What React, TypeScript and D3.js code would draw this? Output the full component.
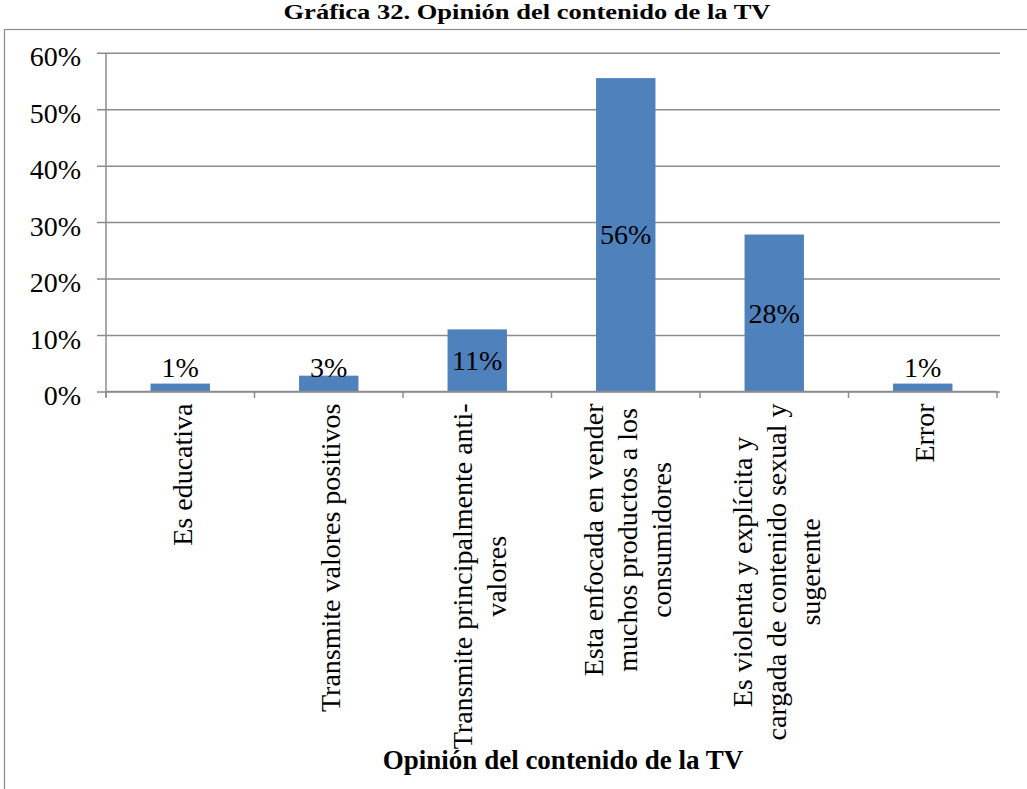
import React, { useEffect, useRef } from 'react';
import * as d3 from 'd3';

// chart data
const categories: string[] = [
  "Es educativa",
  "Transmite valores positivos",
  "Transmite principalmente anti-\nvalores",
  "Esta enfocada en vender\nmuchos productos a los\nconsumidores",
  "Es violenta y explícita y\ncargada de contenido sexual y\nsugerente",
  "Error",
];
const values: number[] = [0.014, 0.028, 0.11, 0.555, 0.278, 0.014];
const valueLabels: string[] = ["1%", "3%", "11%", "56%", "28%", "1%"];
const yTicks: number[] = [0, 0.1, 0.2, 0.3, 0.4, 0.5, 0.6];

const chartTitle = "Gráfica 32. Opinión del contenido de la TV";
const axisTitle = "Opinión del contenido de la TV";

const W = 1027;
const H = 789;
const FONT = "'Liberation Serif', 'Times New Roman', serif";

const App: React.FC = () => {
  const ref = useRef<SVGSVGElement | null>(null);

  useEffect(() => {
    if (!ref.current) return;
    const svg = d3.select(ref.current);
    svg.selectAll("*").remove();

    const margin = { top: 52.7, left: 106, right: 30, bottom: 397.5 }; // plot box in px
    const x0 = margin.left;
    const x1 = W - margin.right;
    const yTop = margin.top;
    const yBase = H - margin.bottom;

    const x = d3.scaleBand<number>()
      .domain(d3.range(categories.length))
      .range([x0, x1])
      .paddingInner(0.6)
      .paddingOuter(0.3);
    const step = x.step();

    const y = d3.scaleLinear().domain([0, 0.6]).range([yBase, yTop]);

    // outer chart border (right/bottom fall outside the picture)
    svg.append("rect")
      .attr("x", 4.5)
      .attr("y", 29.5)
      .attr("width", 1200)
      .attr("height", 1000)
      .attr("fill", "none")
      .attr("stroke", "#8a8a8a")
      .attr("stroke-width", 1.2);

    // title
    svg.append("text")
      .attr("x", 527)
      .attr("y", 19)
      .attr("text-anchor", "middle")
      .attr("font-family", FONT)
      .attr("font-weight", "bold")
      .attr("font-size", 22)
      .attr("textLength", 487)
      .attr("lengthAdjust", "spacingAndGlyphs")
      .text(chartTitle);

    // gridlines + y ticks
    const yAxis = d3.axisLeft(y)
      .tickValues(yTicks)
      .tickSize(-(x1 - x0 + 3))
      .tickPadding(0)
      .tickFormat(d => `${Math.round((d as number) * 100)}%`);

    const gy = svg.append("g")
      .attr("transform", `translate(${x0},0)`)
      .call(yAxis);
    gy.select(".domain").remove();
    gy.selectAll(".tick line")
      .attr("x1", -9)
      .attr("stroke", "#8c8c8c")
      .attr("stroke-width", 1.5);
    gy.selectAll(".tick text")
      .attr("x", -25)
      .attr("dy", 0)
      .attr("y", 13)
      .attr("fill", "#000")
      .attr("font-family", FONT)
      .attr("font-size", 28)
      .attr("text-anchor", "end");

    // y axis line
    svg.append("line")
      .attr("x1", x0).attr("x2", x0)
      .attr("y1", yTop).attr("y2", yBase + 6)
      .attr("stroke", "#8c8c8c")
      .attr("stroke-width", 1.5);

    // bars
    svg.append("g")
      .selectAll("rect")
      .data(values)
      .join("rect")
      .attr("x", (_, i) => x(i) as number)
      .attr("width", x.bandwidth())
      .attr("y", d => y(d))
      .attr("height", d => yBase - y(d))
      .attr("fill", "#4f81bd");

    // x axis line + ticks at category boundaries
    svg.append("line")
      .attr("x1", x0).attr("x2", x1)
      .attr("y1", yBase).attr("y2", yBase)
      .attr("stroke", "#8c8c8c")
      .attr("stroke-width", 1.5);
    svg.append("g")
      .selectAll("line")
      .data(d3.range(categories.length + 1))
      .join("line")
      .attr("x1", i => x0 + i * step)
      .attr("x2", i => x0 + i * step)
      .attr("y1", yBase)
      .attr("y2", yBase + 6.5)
      .attr("stroke", "#8c8c8c")
      .attr("stroke-width", 1.5);

    // data labels: centered in bar, held above the axis when the bar is short
    svg.append("g")
      .selectAll("text")
      .data(values)
      .join("text")
      .attr("x", (_, i) => (x(i) as number) + x.bandwidth() / 2)
      .attr("y", d => Math.min((y(d) + yBase) / 2, yBase - 24) + 9.5)
      .attr("text-anchor", "middle")
      .attr("font-family", FONT)
      .attr("font-size", 28)
      .text((_, i) => valueLabels[i]);

    // category labels, rotated, lines centered on the longest one
    const lh = 34;
    const labelTop = yBase + 12;
    categories.forEach((cat, i) => {
      const lines = cat.split("\n");
      const cx = x0 + (i + 0.5) * step;
      const g = svg.append("g");
      const texts = g.selectAll("text")
        .data(lines)
        .join("text")
        .attr("text-anchor", "middle")
        .attr("font-family", FONT)
        .attr("font-size", 28)
        .text(d => d);
      let maxW = 0;
      texts.each(function () {
        maxW = Math.max(maxW, (this as SVGTextElement).getComputedTextLength());
      });
      const cy = labelTop + maxW / 2;
      texts.attr("transform", (_, j) => {
        const bx = cx + (j - (lines.length - 1) / 2) * lh + 9.5 + 2;
        return `translate(${bx},${cy}) rotate(-90)`;
      });
    });

    // axis title
    svg.append("text")
      .attr("x", 563)
      .attr("y", 769)
      .attr("text-anchor", "middle")
      .attr("font-family", FONT)
      .attr("font-weight", "bold")
      .attr("font-size", 27)
      .text(axisTitle);
  }, []);

  return (
    <svg
      ref={ref}
      width={W}
      height={H}
      style={{ position: 'absolute', left: 0, top: 0, background: '#fff' }}
    />
  );
};

export default App;
